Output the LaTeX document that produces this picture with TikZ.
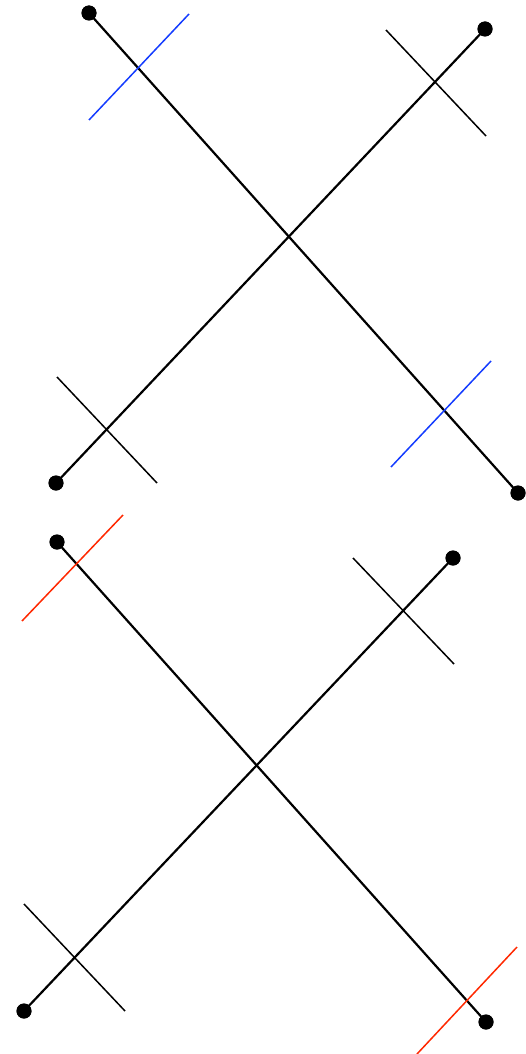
\documentclass[tikz,border=0pt]{standalone}
\definecolor{tickblue}{RGB}{20,60,255}
\definecolor{tickred}{RGB}{255,40,0}
\begin{document}
\begin{tikzpicture}[x=1pt,y=-1pt,
  dot/.style={circle,fill=black,inner sep=0pt,minimum size=15pt},
  mainline/.style={line width=2.2pt,black},
  tickline/.style={line width=1.5pt},
]
\useasboundingbox (0,0) rectangle (526,1054);
% top panel
\node[dot] (a1) at (89,13) {};
\node[dot] (a2) at (518,493) {};
\node[dot] (b1) at (56,483) {};
\node[dot] (b2) at (485,29) {};
\draw[mainline] (a1.center) -- (a2.center);
\draw[mainline] (b1.center) -- (b2.center);
\coordinate (t1s) at (89,120); \coordinate (t1e) at (189,14);
\coordinate (t2s) at (386,30); \coordinate (t2e) at (486,136);
\coordinate (t3s) at (57,377); \coordinate (t3e) at (157,483);
\coordinate (t4s) at (391,467); \coordinate (t4e) at (491,361);
\draw[tickline,tickblue] (t1s) -- (t1e);
\draw[tickline,black] (t2s) -- (t2e);
\draw[tickline,black] (t3s) -- (t3e);
\draw[tickline,tickblue] (t4s) -- (t4e);
% bottom panel
\node[dot] (c1) at (57,542) {};
\node[dot] (c2) at (486,1022) {};
\node[dot] (d1) at (24,1011) {};
\node[dot] (d2) at (453,558) {};
\draw[mainline] (c1.center) -- (c2.center);
\draw[mainline] (d1.center) -- (d2.center);
\coordinate (u1s) at (22,621); \coordinate (u1e) at (123,515);
\coordinate (u2s) at (353,558); \coordinate (u2e) at (454,664);
\coordinate (u3s) at (24,904); \coordinate (u3e) at (125,1011);
\coordinate (u4s) at (417,1054); \coordinate (u4e) at (517,947);
\draw[tickline,tickred] (u1s) -- (u1e);
\draw[tickline,black] (u2s) -- (u2e);
\draw[tickline,black] (u3s) -- (u3e);
\draw[tickline,tickred] (u4s) -- (u4e);
% redraw dots on top
\foreach \n in {a1,a2,b1,b2,c1,c2,d1,d2} \fill (\n) circle (7.5pt);
\end{tikzpicture}
\end{document}
